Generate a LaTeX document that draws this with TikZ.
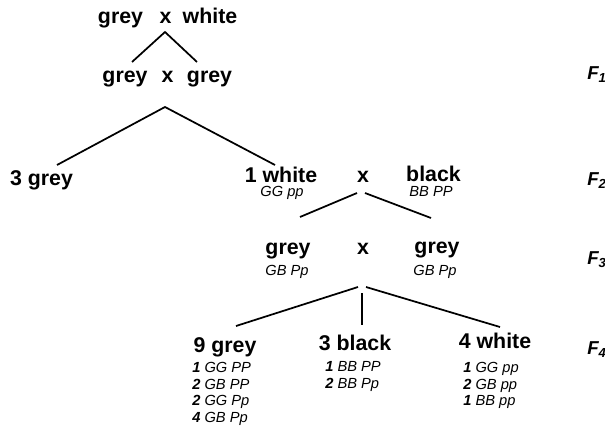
\documentclass[tikz,border=0pt]{standalone}
\usepackage{fontspec}
\setmainfont{Liberation Sans}
\begin{document}
\begin{tikzpicture}[x=0.75pt,y=-0.75pt,
    pheno/.style={font=\fontsize{16}{19}\selectfont\bfseries, inner sep=0pt, anchor=base},
    geno/.style={font=\fontsize{11}{13}\selectfont\itshape, inner sep=0pt, anchor=base},
    genlist/.style={font=\fontsize{11}{12.5}\selectfont\itshape, inner sep=0pt, anchor=north west, align=left},
    gen/.style={font=\fontsize{14}{16}\selectfont\bfseries\itshape, inner sep=0pt, anchor=west},
    cross/.style={line width=1.3pt}]
    \useasboundingbox (0,0) rectangle (605,431);
    % parents
    \node[pheno] (grey0) at (120.5,24) {grey};
    \node[pheno] (x0) at (165.5,24) {x};
    \node[pheno] (white0) at (210,24) {white};
    % F1
    \node[pheno] (grey1a) at (125,83) {grey};
    \node[pheno] (x1) at (167.5,83) {x};
    \node[pheno] (grey1b) at (209.5,83) {grey};
    % F2
    \node[pheno] (grey2) at (41.5,185) {3 grey};
    \node[pheno] (white2) at (281,182) {1 white};
    \node[geno] (white2g) at (282,196) {GG pp};
    \node[pheno] (x2) at (363,182) {x};
    \node[pheno] (black2) at (433.5,181) {black};
    \node[geno] (black2g) at (431,196) {BB PP};
    % F3
    \node[pheno] (grey3a) at (288,254) {grey};
    \node[geno] (grey3ag) at (287,275) {GB Pp};
    \node[pheno] (x3) at (363,254) {x};
    \node[pheno] (grey3b) at (437,253) {grey};
    \node[geno] (grey3bg) at (435,275) {GB Pp};
    % F4
    \node[pheno] (grey4) at (225,352) {9 grey};
    \node[genlist] (grey4g) at (192,362) {{\bfseries 1} GG PP\\{\bfseries 2} GB PP\\{\bfseries 2} GG Pp\\{\bfseries 4} GB Pp};
    \node[pheno] (black4) at (355,350) {3 black};
    \node[genlist] (black4g) at (325,361) {{\bfseries 1} BB PP\\{\bfseries 2} BB Pp};
    \node[pheno] (white4) at (495,348) {4 white};
    \node[genlist] (white4g) at (463,362) {{\bfseries 1} GG pp\\{\bfseries 2} GB pp\\{\bfseries 1} BB pp};
    % generations
    \foreach \n/\y in {1/75, 2/181, 3/260, 4/350}
    \node[gen] (f\n) at (587,\y) {F\textsubscript{\n}};
    % crossing lines
    \coordinate (top1) at (165,32);
    \coordinate (end1l) at (132,62);
    \coordinate (end1r) at (197,62);
    \coordinate (top2) at (165,107);
    \coordinate (end2l) at (57,165);
    \coordinate (end2r) at (275,165);
    \coordinate (top3l) at (357,193);
    \coordinate (end3l) at (300,217);
    \coordinate (top3r) at (365,193);
    \coordinate (end3r) at (431,218);
    \coordinate (top4l) at (358,287);
    \coordinate (end4l) at (236,326);
    \coordinate (top4m) at (362,293);
    \coordinate (end4m) at (362,325);
    \coordinate (top4r) at (366,287);
    \coordinate (end4r) at (500,327);
    \draw[cross] (end1l) -- (top1) -- (end1r);
    \draw[cross] (end2l) -- (top2) -- (end2r);
    \draw[cross] (top3l) -- (end3l);
    \draw[cross] (top3r) -- (end3r);
    \draw[cross] (top4l) -- (end4l);
    \draw[cross] (top4m) -- (end4m);
    \draw[cross] (top4r) -- (end4r);
\end{tikzpicture}
\end{document}
